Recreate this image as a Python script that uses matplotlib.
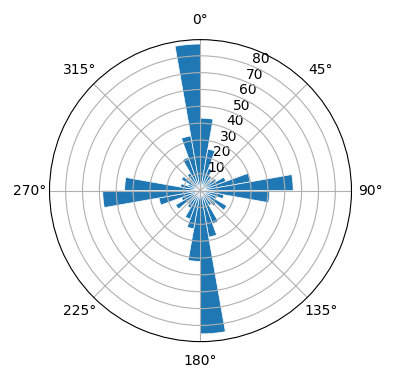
import numpy as np
import matplotlib
matplotlib.use("Agg")
import matplotlib.pyplot as plt

# 10 degree bins, start angle of each bin
bin_start = list(range(0, 360, 10))
counts = [43, 25, 14, 10, 8, 11, 16, 30, 55,
          41, 14, 10, 18, 12, 10, 21, 28, 85,
          42, 23, 18, 12, 10, 17, 12, 25, 58,
          45, 12, 8, 13, 9, 12, 21, 33, 87]
bin_width = 10
r_ticks = [10, 20, 30, 40, 50, 60, 70, 80]

fig = plt.figure(figsize=(3.96, 3.8), dpi=100)
ax = fig.add_axes([0.125, 0.101, 0.7626, 0.7947], projection="polar")
ax.set_theta_zero_location("N")
ax.set_theta_direction(-1)

theta = np.deg2rad(bin_start)
ax.bar(theta, counts, width=np.deg2rad(bin_width), align="edge",
       edgecolor="white", linewidth=0.5)

ax.set_ylim(0, 89.6)
ax.set_yticks(r_ticks)

fig.savefig("out.png")
